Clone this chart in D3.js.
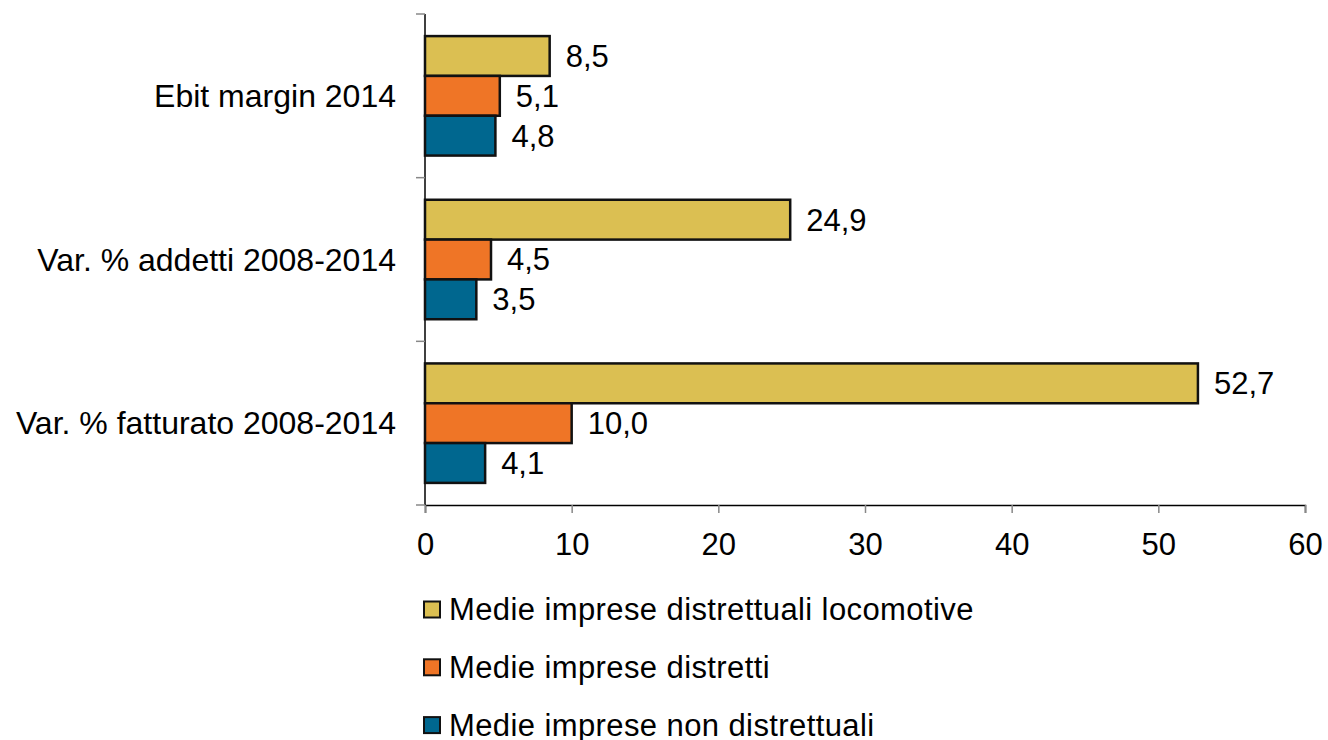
<!DOCTYPE html>
<html><head><meta charset="utf-8">
<script src="https://cdn.jsdelivr.net/npm/d3@7"></script>
<style>body{margin:0;background:#fff}svg{display:block;font-family:"Liberation Sans",Arial,sans-serif}</style>
</head><body><svg id="c" width="1328" height="740"></svg>
<script>
const categories = ["Ebit margin 2014", "Var. % addetti 2008-2014", "Var. % fatturato 2008-2014"];
const seriesNames = ["Medie imprese distrettuali locomotive", "Medie imprese distretti", "Medie imprese non distrettuali"];
const locomotive = [8.5, 24.9, 52.7];
const distretti = [5.1, 4.5, 10.0];
const nonDistrettuali = [4.8, 3.5, 4.1];
const xTicks = [0, 10, 20, 30, 40, 50, 60];
const colors = ["#DBBF52", "#EF7526", "#00678F"];

(function () {
const series = [locomotive, distretti, nonDistrettuali];
const svg = d3.select("#c");
const FF = "Liberation Sans, Arial, sans-serif";
const mLeft = 425, mRight = 1305, mTop = 14, mBottom = 505;
const x = d3.scaleLinear().domain([0, 60]).range([mLeft, mRight]);
const y = d3.scaleBand().domain(categories).range([mTop, mBottom]).paddingInner(0.27).paddingOuter(0.135);
const inner = d3.scaleBand().domain(d3.range(3)).range([0, y.bandwidth()]);

const gx = svg.append("g").attr("transform", `translate(0,${mBottom})`)
  .call(d3.axisBottom(x).tickValues(xTicks).tickSize(8).tickPadding(20).tickFormat(d3.format("d")));
gx.select(".domain").attr("stroke", "#000").attr("stroke-width", 1.5);
gx.selectAll(".tick line").attr("stroke", "#888").attr("stroke-width", 1.5);
gx.selectAll(".tick text").attr("font-size", 31).attr("fill", "#000").attr("font-family", FF);

const yEdges = d3.range(categories.length + 1).map(i => mTop + i * (mBottom - mTop) / categories.length);
const gy = svg.append("g");
gy.append("line").attr("x1", mLeft).attr("x2", mLeft).attr("y1", mTop).attr("y2", mBottom).attr("stroke", "#000").attr("stroke-width", 1.5);
gy.selectAll("line.t").data(yEdges).join("line").attr("class", "t")
  .attr("x1", mLeft - 9).attr("x2", mLeft).attr("y1", d => d).attr("y2", d => d).attr("stroke", "#888").attr("stroke-width", 1.5);
gy.selectAll("text").data(categories).join("text")
  .attr("x", 396).attr("y", d => y(d) + y.bandwidth() / 2).attr("dy", "0.35em")
  .attr("text-anchor", "end").attr("font-size", 32).text(d => d);

series.forEach((vals, si) => {
  const g = svg.append("g");
  g.selectAll("rect").data(vals).join("rect")
    .attr("x", x(0)).attr("y", (d, i) => y(categories[i]) + inner(si))
    .attr("width", d => x(d) - x(0)).attr("height", inner.bandwidth())
    .attr("fill", colors[si]).attr("stroke", "#111").attr("stroke-width", 2.5);
  g.selectAll("text").data(vals).join("text")
    .attr("x", d => x(d) + 16).attr("y", (d, i) => y(categories[i]) + inner(si) + inner.bandwidth() / 2)
    .attr("dy", "0.35em").attr("font-size", 31)
    .text(d => d3.format(".1f")(d).replace(".", ","));
});

const leg = svg.append("g");
seriesNames.forEach((n, i) => {
  const cy = 609.5 + i * 57.8;
  leg.append("rect").attr("x", 424).attr("y", cy - 8).attr("width", 16).attr("height", 16)
    .attr("fill", colors[i]).attr("stroke", "#111").attr("stroke-width", 2);
  leg.append("text").attr("x", 449).attr("y", cy).attr("dy", "0.35em").attr("font-size", 31)
    .attr("letter-spacing", 0.4).text(n);
});
})();
</script></body></html>
